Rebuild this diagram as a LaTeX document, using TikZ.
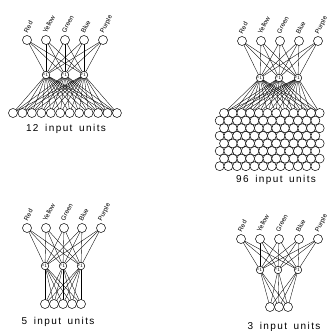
\documentclass[tikz,border=0pt]{standalone}
\usepackage{fontspec}
\newfontfamily\labfont[LetterSpace=14,WordSpace=1.6]{Liberation Sans}
\newfontfamily\tagfont{Liberation Sans}
\begin{document}
\begin{tikzpicture}[x=1pt,y=-1pt,
  outunit/.style={circle,draw,fill=white,line width=0.5pt,minimum size=9pt,inner sep=0pt},
  hidunit/.style={circle,draw,fill=white,line width=0.5pt,minimum size=7.5pt,inner sep=0pt,font=\tagfont\fontsize{2.8}{3}\selectfont},
  inunit/.style={circle,draw,fill=white,line width=0.5pt,minimum size=9pt,inner sep=0pt},
  wire/.style={line width=0.35pt},
  colourlab/.style={rotate=62,anchor=base west,inner sep=0pt,font=\tagfont\fontsize{6.5}{6.5}\selectfont},
  caption/.style={font=\labfont\fontsize{10}{10}\selectfont,inner sep=0pt}]
\useasboundingbox (0,0) rectangle (328,331);
\def\colours{Red,Yellow,Green,Blue,Purple}
% Panel A: top left
\foreach \x [count=\i] in {27,46,65,84,103} \coordinate (A-o\i) at (\x,40);
\foreach \x [count=\i] in {46,65,84} \coordinate (A-h\i) at (\x,75);
\foreach \i in {1,...,12} \coordinate (A-i\i) at ({13+9.45*(\i-1)},113);
% Panel B: top right
\foreach \x [count=\i] in {242,261,280,299,318} \coordinate (B-o\i) at (\x,41);
\foreach \x [count=\i] in {260,279,298} \coordinate (B-h\i) at (\x,78);
% Panel C: bottom left
\foreach \x [count=\i] in {27,46,64,82,101} \coordinate (C-o\i) at (\x,228);
\foreach \x [count=\i] in {45,63,81} \coordinate (C-h\i) at (\x,266);
\foreach \x [count=\i] in {45,54,63,72,81} \coordinate (C-i\i) at (\x,304);
% Panel D: bottom right
\foreach \x [count=\i] in {241,260,279,299,318} \coordinate (D-o\i) at (\x,239);
\foreach \x [count=\i] in {260,278,298} \coordinate (D-h\i) at (\x,270);
\foreach \x [count=\i] in {270,279,288} \coordinate (D-i\i) at (\x,307);
% grid of 96 units (8 rows x 12)
\foreach \r in {0,...,7} \foreach \c in {1,...,12} {
  \pgfmathsetmacro{\gx}{224+8.7*(\c-1)-4.35*mod(\r,2)}
  \coordinate (B-g\r-\c) at (\gx,{113+7.6*\r});
}
% wires
\foreach \p in {A,B,C,D} \foreach \o in {1,...,5} \foreach \h in {1,2,3}
  \draw[wire] (\p-o\o) -- (\p-h\h);
\foreach \h in {1,2,3} {
  \foreach \k in {1,...,12} \draw[wire] (A-h\h) -- (A-i\k);
  \foreach \k in {1,...,12} \draw[wire] (B-h\h) -- (B-g0-\k);
  \foreach \k in {1,...,5} \draw[wire] (C-h\h) -- (C-i\k);
  \foreach \k in {1,2,3} \draw[wire] (D-h\h) -- (D-i\k);
}
% units
\foreach \r in {7,6,...,0} \foreach \c in {1,...,12}
  \node[inunit] (B-gn\r-\c) at (B-g\r-\c) {};
\foreach \k in {1,...,12} \node[inunit] (A-in\k) at (A-i\k) {};
\foreach \k in {1,...,5} \node[inunit] (C-in\k) at (C-i\k) {};
\foreach \k in {1,2,3} \node[inunit] (D-in\k) at (D-i\k) {};
\foreach \p in {A,B,C,D} {
  \foreach \t [count=\h] in {X,Y,Z} \node[hidunit] (\p-hn\h) at (\p-h\h) {$\mathsf{\t}_1$};
  \foreach \c [count=\o] in \colours {
    \node[outunit] (\p-on\o) at (\p-o\o) {};
    \node[colourlab] (\p-lab\o) at ([xshift=0.5pt,yshift=6.5pt]\p-o\o) {\c};
  }
}
% captions
\node[caption] (capA) at (66,129) {12 input units};
\node[caption] (capB) at (276,180) {96 input units};
\node[caption] (capC) at (58,322) {5 input units};
\node[caption] (capD) at (284,327) {3 input units};
\end{tikzpicture}
\end{document}
